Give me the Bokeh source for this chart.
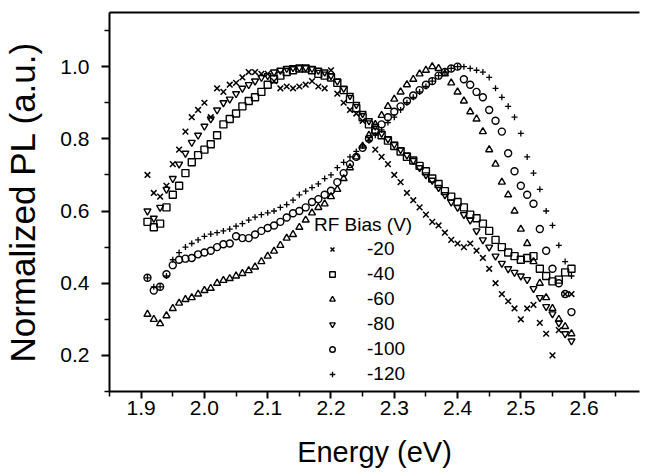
from bokeh.plotting import figure
from bokeh.models import (Range1d, FixedTicker, Legend, LegendItem, LinearAxis, PrintfTickFormatter,
                          ColumnDataSource)
from bokeh.embed import file_html
from bokeh.resources import INLINE

energy = [1.91, 1.92, 1.93, 1.94, 1.95, 1.96, 1.97, 1.98, 1.99, 2.00,
          2.01, 2.02, 2.03, 2.04, 2.05, 2.06, 2.07, 2.08, 2.09, 2.10,
          2.11, 2.12, 2.13, 2.14, 2.15, 2.16, 2.17, 2.18, 2.19, 2.20,
          2.21, 2.22, 2.23, 2.24, 2.25, 2.26, 2.27, 2.28, 2.29, 2.30,
          2.31, 2.32, 2.33, 2.34, 2.35, 2.36, 2.37, 2.38, 2.39, 2.40,
          2.41, 2.42, 2.43, 2.44, 2.45, 2.46, 2.47, 2.48, 2.49, 2.50,
          2.51, 2.52, 2.53, 2.54, 2.55, 2.56, 2.57, 2.58]

pl_m20 = [0.70, 0.65, 0.64, 0.67, 0.73, 0.77, 0.82, 0.86, 0.88, 0.90,
          0.86, 0.94, 0.93, 0.95, 0.955, 0.97, 0.985, 0.985, 0.98, 0.98,
          0.96, 0.94, 0.945, 0.94, 0.945, 0.95, 0.96, 0.945, 0.94, 0.99,
          0.925, 0.90, 0.88, 0.87, 0.85, 0.80, 0.77, 0.75, 0.73, 0.70,
          0.68, 0.65, 0.63, 0.61, 0.59, 0.57, 0.56, 0.54, 0.52, 0.51,
          0.50, 0.51, 0.49, 0.47, 0.44, 0.40, 0.37, 0.35, 0.33, 0.30,
          0.33, 0.34, 0.29, 0.26, 0.20, 0.27, 0.37, 0.37]

pl_m40 = [0.57, 0.555, 0.565, 0.61, 0.645, 0.67, 0.705, 0.735, 0.755, 0.77,
          0.785, 0.81, 0.84, 0.855, 0.87, 0.89, 0.905, 0.915, 0.93, 0.95,
          0.965, 0.975, 0.985, 0.99, 0.995, 0.995, 0.99, 0.98, 0.975, 0.97,
          0.955, 0.935, 0.91, 0.885, 0.86, 0.84, 0.825, 0.81, 0.795, 0.78,
          0.765, 0.75, 0.74, 0.725, 0.71, 0.69, 0.675, 0.655, 0.64, 0.625,
          0.61, 0.59, 0.58, 0.565, 0.545, 0.52, 0.50, 0.485, 0.475, 0.465,
          0.47, 0.475, 0.44, 0.42, 0.405, 0.41, 0.43, 0.44]

pl_m60 = [0.314, 0.30, 0.288, 0.31, 0.33, 0.345, 0.355, 0.36, 0.37, 0.38,
          0.386, 0.40, 0.408, 0.413, 0.42, 0.427, 0.435, 0.445, 0.46, 0.475,
          0.489, 0.505, 0.525, 0.535, 0.555, 0.575, 0.595, 0.61, 0.62, 0.64,
          0.66, 0.69, 0.72, 0.75, 0.78, 0.81, 0.84, 0.865, 0.89, 0.91,
          0.93, 0.95, 0.965, 0.98, 0.99, 1.00, 0.995, 0.98, 0.955, 0.93,
          0.905, 0.875, 0.855, 0.82, 0.77, 0.73, 0.68, 0.645, 0.60, 0.55,
          0.51, 0.46, 0.40, 0.36, 0.33, 0.30, 0.28, 0.26]

pl_m80 = [0.60, 0.58, 0.61, 0.66, 0.69, 0.73, 0.76, 0.79, 0.81, 0.835,
          0.855, 0.88, 0.90, 0.91, 0.925, 0.94, 0.95, 0.96, 0.97, 0.975,
          0.985, 0.99, 0.995, 0.997, 0.997, 0.997, 0.995, 0.99, 0.985, 0.975,
          0.96, 0.94, 0.92, 0.895, 0.87, 0.85, 0.835, 0.815, 0.80, 0.785,
          0.77, 0.755, 0.74, 0.72, 0.70, 0.685, 0.665, 0.645, 0.625, 0.61,
          0.59, 0.575, 0.545, 0.52, 0.50, 0.475, 0.455, 0.44, 0.43, 0.42,
          0.41, 0.385, 0.36, 0.335, 0.315, 0.29, 0.26, 0.24]

pl_m100 = [0.415, 0.38, 0.39, 0.425, 0.45, 0.465, 0.468, 0.47, 0.48, 0.485,
           0.49, 0.50, 0.508, 0.51, 0.53, 0.525, 0.525, 0.535, 0.545, 0.553,
           0.56, 0.57, 0.582, 0.594, 0.60, 0.61, 0.625, 0.633, 0.645, 0.656,
           0.68, 0.705, 0.73, 0.75, 0.775, 0.80, 0.82, 0.84, 0.86, 0.875,
           0.89, 0.905, 0.92, 0.935, 0.95, 0.96, 0.975, 0.985, 0.995, 1.00,
           0.965, 0.95, 0.93, 0.915, 0.88, 0.85, 0.82, 0.76, 0.71, 0.67,
           0.645, 0.62, 0.55, 0.49, 0.44, 0.40, 0.37, 0.32]

pl_m120 = [0.415, 0.39, 0.39, 0.42, 0.465, 0.485, 0.50, 0.51, 0.52, 0.53,
           0.536, 0.54, 0.545, 0.55, 0.558, 0.565, 0.575, 0.583, 0.59, 0.595,
           0.60, 0.61, 0.618, 0.63, 0.645, 0.655, 0.665, 0.675, 0.69, 0.70,
           0.72, 0.735, 0.75, 0.765, 0.78, 0.795, 0.81, 0.825, 0.845, 0.86,
           0.88, 0.90, 0.915, 0.93, 0.945, 0.96, 0.975, 0.985, 0.995, 1.00,
           1.00, 0.995, 0.99, 0.985, 0.97, 0.94, 0.915, 0.89, 0.86, 0.815,
           0.75, 0.705, 0.66, 0.60, 0.56, 0.505, 0.46, 0.42]

bias_labels = ["-20", "-40", "-60", "-80", "-100", "-120"]
x_ticks = [1.9, 2.0, 2.1, 2.2, 2.3, 2.4, 2.5, 2.6]
x_minor = [1.85, 1.95, 2.05, 2.15, 2.25, 2.35, 2.45, 2.55, 2.65]
y_ticks = [0.2, 0.4, 0.6, 0.8, 1.0]
y_minor = [0.1, 0.3, 0.5, 0.7, 0.9, 1.1]
x_title = "Energy (eV)"
y_title = "Normalized PL (a.u.)"

FONT = "Liberation Sans"

p = figure(width=647, height=472, x_range=Range1d(1.85, 2.6875), y_range=Range1d(0.1, 1.15),
           output_backend="svg", toolbar_location=None,
           min_border_left=108, min_border_top=12, min_border_bottom=81, min_border_right=8)
p.outline_line_color = None
p.grid.visible = False
p.background_fill_color = "white"
p.border_fill_color = "white"

series = [
    (pl_m20, "x", 8, 1.5),
    (pl_m40, "square", 7, 1.4),
    (pl_m60, "triangle", 7, 1.4),
    (pl_m80, "inverted_triangle", 7, 1.4),
    (pl_m100, "circle", 7, 1.4),
    (pl_m120, "cross", 6, 1.3),
]
items = []
for (vals, mk, sz, lw), lab in zip(series, bias_labels):
    src = ColumnDataSource(data=dict(e=energy, v=vals))
    r = p.scatter("e", "v", source=src, marker=mk, size=sz, line_color="black", fill_color=None,
                  line_width=lw)
    items.append(LegendItem(label=lab, renderers=[r]))

xa = p.xaxis[0]
xa.ticker = FixedTicker(ticks=x_ticks, minor_ticks=x_minor)
ya = p.yaxis[0]
ya.ticker = FixedTicker(ticks=y_ticks, minor_ticks=y_minor)
for ax in (xa, ya):
    ax.formatter = PrintfTickFormatter(format="%.1f")
    ax.axis_line_width = 2
    ax.axis_line_color = "black"
    ax.major_tick_line_width = 2
    ax.minor_tick_line_width = 1.5
    ax.major_tick_in = 0
    ax.minor_tick_in = 0
    ax.minor_tick_out = 5
    ax.major_label_text_font = FONT
    ax.major_label_text_font_size = "21px"
    ax.major_label_text_color = "black"
    ax.axis_label_text_font = FONT
    ax.axis_label_text_font_style = "normal"
    ax.axis_label_text_color = "black"
xa.major_tick_out = 7
ya.major_tick_out = 8
xa.axis_label = x_title
ya.axis_label = y_title
xa.axis_label_text_font_size = "29px"
ya.axis_label_text_font_size = "35px"
xa.major_label_standoff = 2
ya.major_label_standoff = 12
xa.axis_label_standoff = 18
ya.axis_label_standoff = 15

top = LinearAxis(ticker=FixedTicker(ticks=[]), major_label_text_font_size="0px",
                 axis_line_width=2, major_tick_line_color=None, minor_tick_line_color=None)
p.add_layout(top, "above")

legend = Legend(items=items, location=(205, 5), title="RF Bias (V)",
                title_text_font=FONT, title_text_font_size="19px", title_text_font_style="normal",
                title_text_color="black",
                label_text_font=FONT, label_text_font_size="19px", label_text_color="black",
                glyph_width=36, glyph_height=14, label_height=25, spacing=0,
                label_standoff=17, padding=0, margin=0, title_standoff=0,
                border_line_color=None, background_fill_alpha=0)
p.add_layout(legend, "center")

open("out.html", "w").write(file_html(p, INLINE))
